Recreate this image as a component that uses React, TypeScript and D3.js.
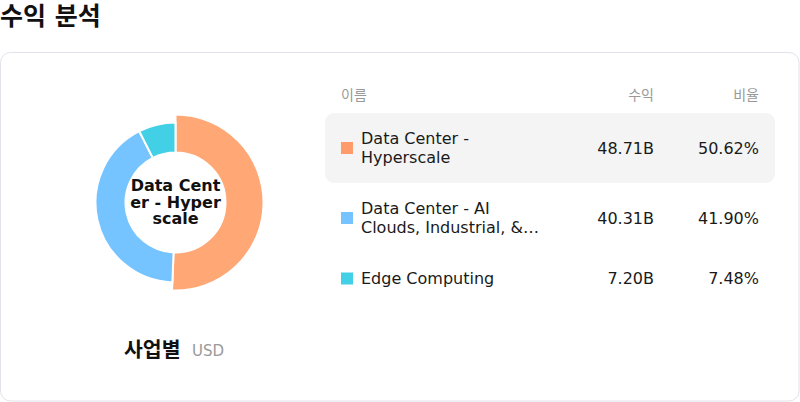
import React, { useMemo } from "react";
import * as d3 from "d3";

const names = [
  "Data Center - Hyperscale",
  "Data Center - AI Clouds, Industrial, & Enterprise",
  "Edge Computing",
];
const revenues = [48.71, 40.31, 7.2];
const shares = [50.62, 41.9, 7.48];
const sliceColors = ["#FFA775", "#76C4FF", "#42D0E6"];
const markerColors = ["#FF9B6A", "#76C4FF", "#42D0E6"];
const headers = ["이름", "수익", "비율"];
const title = "수익 분석";
const subtitle = "사업별";
const unit = "USD";
const activeIndex = 0;

const FONT = "'DejaVu Sans', 'Noto Sans CJK KR', sans-serif";

let ctx: CanvasRenderingContext2D | null = null;
function measure(text: string, font: string): number {
  if (!ctx) ctx = document.createElement("canvas").getContext("2d");
  ctx!.font = font;
  return ctx!.measureText(text).width;
}

function charWrap(text: string, font: string, maxW: number): string[] {
  const lines: string[] = [];
  let cur = "";
  for (const ch of text) {
    if (cur && measure(cur + ch, font) > maxW) {
      lines.push(cur);
      cur = ch;
    } else cur += ch;
  }
  if (cur) lines.push(cur);
  return lines;
}

function wordWrap(text: string, font: string, maxW: number, maxLines: number): string[] {
  const words = text.split(" ");
  const lines: string[] = [];
  let cur = "";
  for (let i = 0; i < words.length; i++) {
    const t = cur ? cur + " " + words[i] : words[i];
    if (cur && measure(t, font) > maxW) {
      lines.push(cur);
      cur = words[i];
      if (lines.length === maxLines) break;
    } else cur = t;
  }
  if (lines.length < maxLines) {
    lines.push(cur);
    return lines;
  }
  lines[maxLines - 1] = lines[maxLines - 1] + "…";
  return lines;
}

export default function App() {
  const W = 800;
  const H = 402;
  const cx = 175.5;
  const cy = 202.5;
  const rIn = 50;
  const rOut = 80;
  const rActive = 88;

  const pie = d3
    .pie<number>()
    .sort(null)
    .value((d) => d)
    .startAngle(0)
    .endAngle(Math.PI * 2);
  const arcs = pie(revenues);

  const centerFont = `bold 16px ${FONT}`;
  const centerLines = useMemo(() => charWrap(names[activeIndex], centerFont, 95), []);
  const rowFont = `16px ${FONT}`;
  const rowLines = useMemo(() => names.map((n) => wordWrap(n, rowFont, 185, 2)), []);

  const lineH = 19;
  let y = 113;
  const rows = rowLines.map((lines, i) => {
    const h = lines.length * lineH + 32;
    const r = { top: y, h, lines, i };
    y += h;
    return r;
  });

  const xName = 361;
  const xMarker = 341;
  const xRev = 654;
  const xPct = 759;
  const centerLH = 16.5;

  return (
    <div style={{ position: "absolute", left: 0, top: 0 }}>
      <svg width={W} height={H} style={{ display: "block", fontFamily: FONT }}>
        <text x={0} y={25} fontSize={25} fontWeight="bold" fill="#111">
          {title}
        </text>
        <rect x={0.5} y={52.5} width={798.5} height={348.5} rx={10} fill="#fff" stroke="#E2E2EA" />

        <g transform={`translate(${cx},${cy})`}>
          {arcs.map((a, i) => {
            const path = d3
              .arc<d3.PieArcDatum<number>>()
              .innerRadius(rIn)
              .outerRadius(i === activeIndex ? rActive : rOut)(a);
            return <path key={i} d={path || ""} fill={sliceColors[i]} stroke="#fff" strokeWidth={2} />;
          })}
          {centerLines.map((l, i) => (
            <text
              key={i}
              x={0}
              y={(i - (centerLines.length - 1) / 2) * centerLH + 5}
              textAnchor="middle"
              fontSize={16}
              fontWeight="bold"
              fill="#111"
            >
              {l}
            </text>
          ))}
        </g>

        <text x={124} y={357} fontSize={20.5} fontWeight="bold" fill="#111">
          {subtitle}
        </text>
        <text x={192} y={356} fontSize={15} fill="#999">
          {unit}
        </text>

        <text x={xMarker} y={100} fontSize={14} fill="#999">
          {headers[0]}
        </text>
        <text x={xRev} y={100} fontSize={14} fill="#999" textAnchor="end">
          {headers[1]}
        </text>
        <text x={xPct} y={100} fontSize={14} fill="#999" textAnchor="end">
          {headers[2]}
        </text>

        {rows.map((r) => {
          const c = r.top + r.h / 2;
          return (
            <g key={r.i}>
              {r.i === activeIndex && (
                <rect x={325} y={r.top} width={450} height={r.h} rx={9} fill="#F4F4F4" />
              )}
              <rect x={xMarker} y={c - 6} width={12} height={12} fill={markerColors[r.i]} />
              {r.lines.map((l, j) => (
                <text
                  key={j}
                  x={xName}
                  y={c + (j - (r.lines.length - 1) / 2) * lineH + 5.5}
                  fontSize={16}
                  fill="#1a1a1a"
                >
                  {l}
                </text>
              ))}
              <text x={xRev} y={c + 5.5} fontSize={16} fill="#1a1a1a" textAnchor="end">
                {revenues[r.i].toFixed(2)}B
              </text>
              <text x={xPct} y={c + 5.5} fontSize={16} fill="#1a1a1a" textAnchor="end">
                {shares[r.i].toFixed(2)}%
              </text>
            </g>
          );
        })}
      </svg>
    </div>
  );
}
